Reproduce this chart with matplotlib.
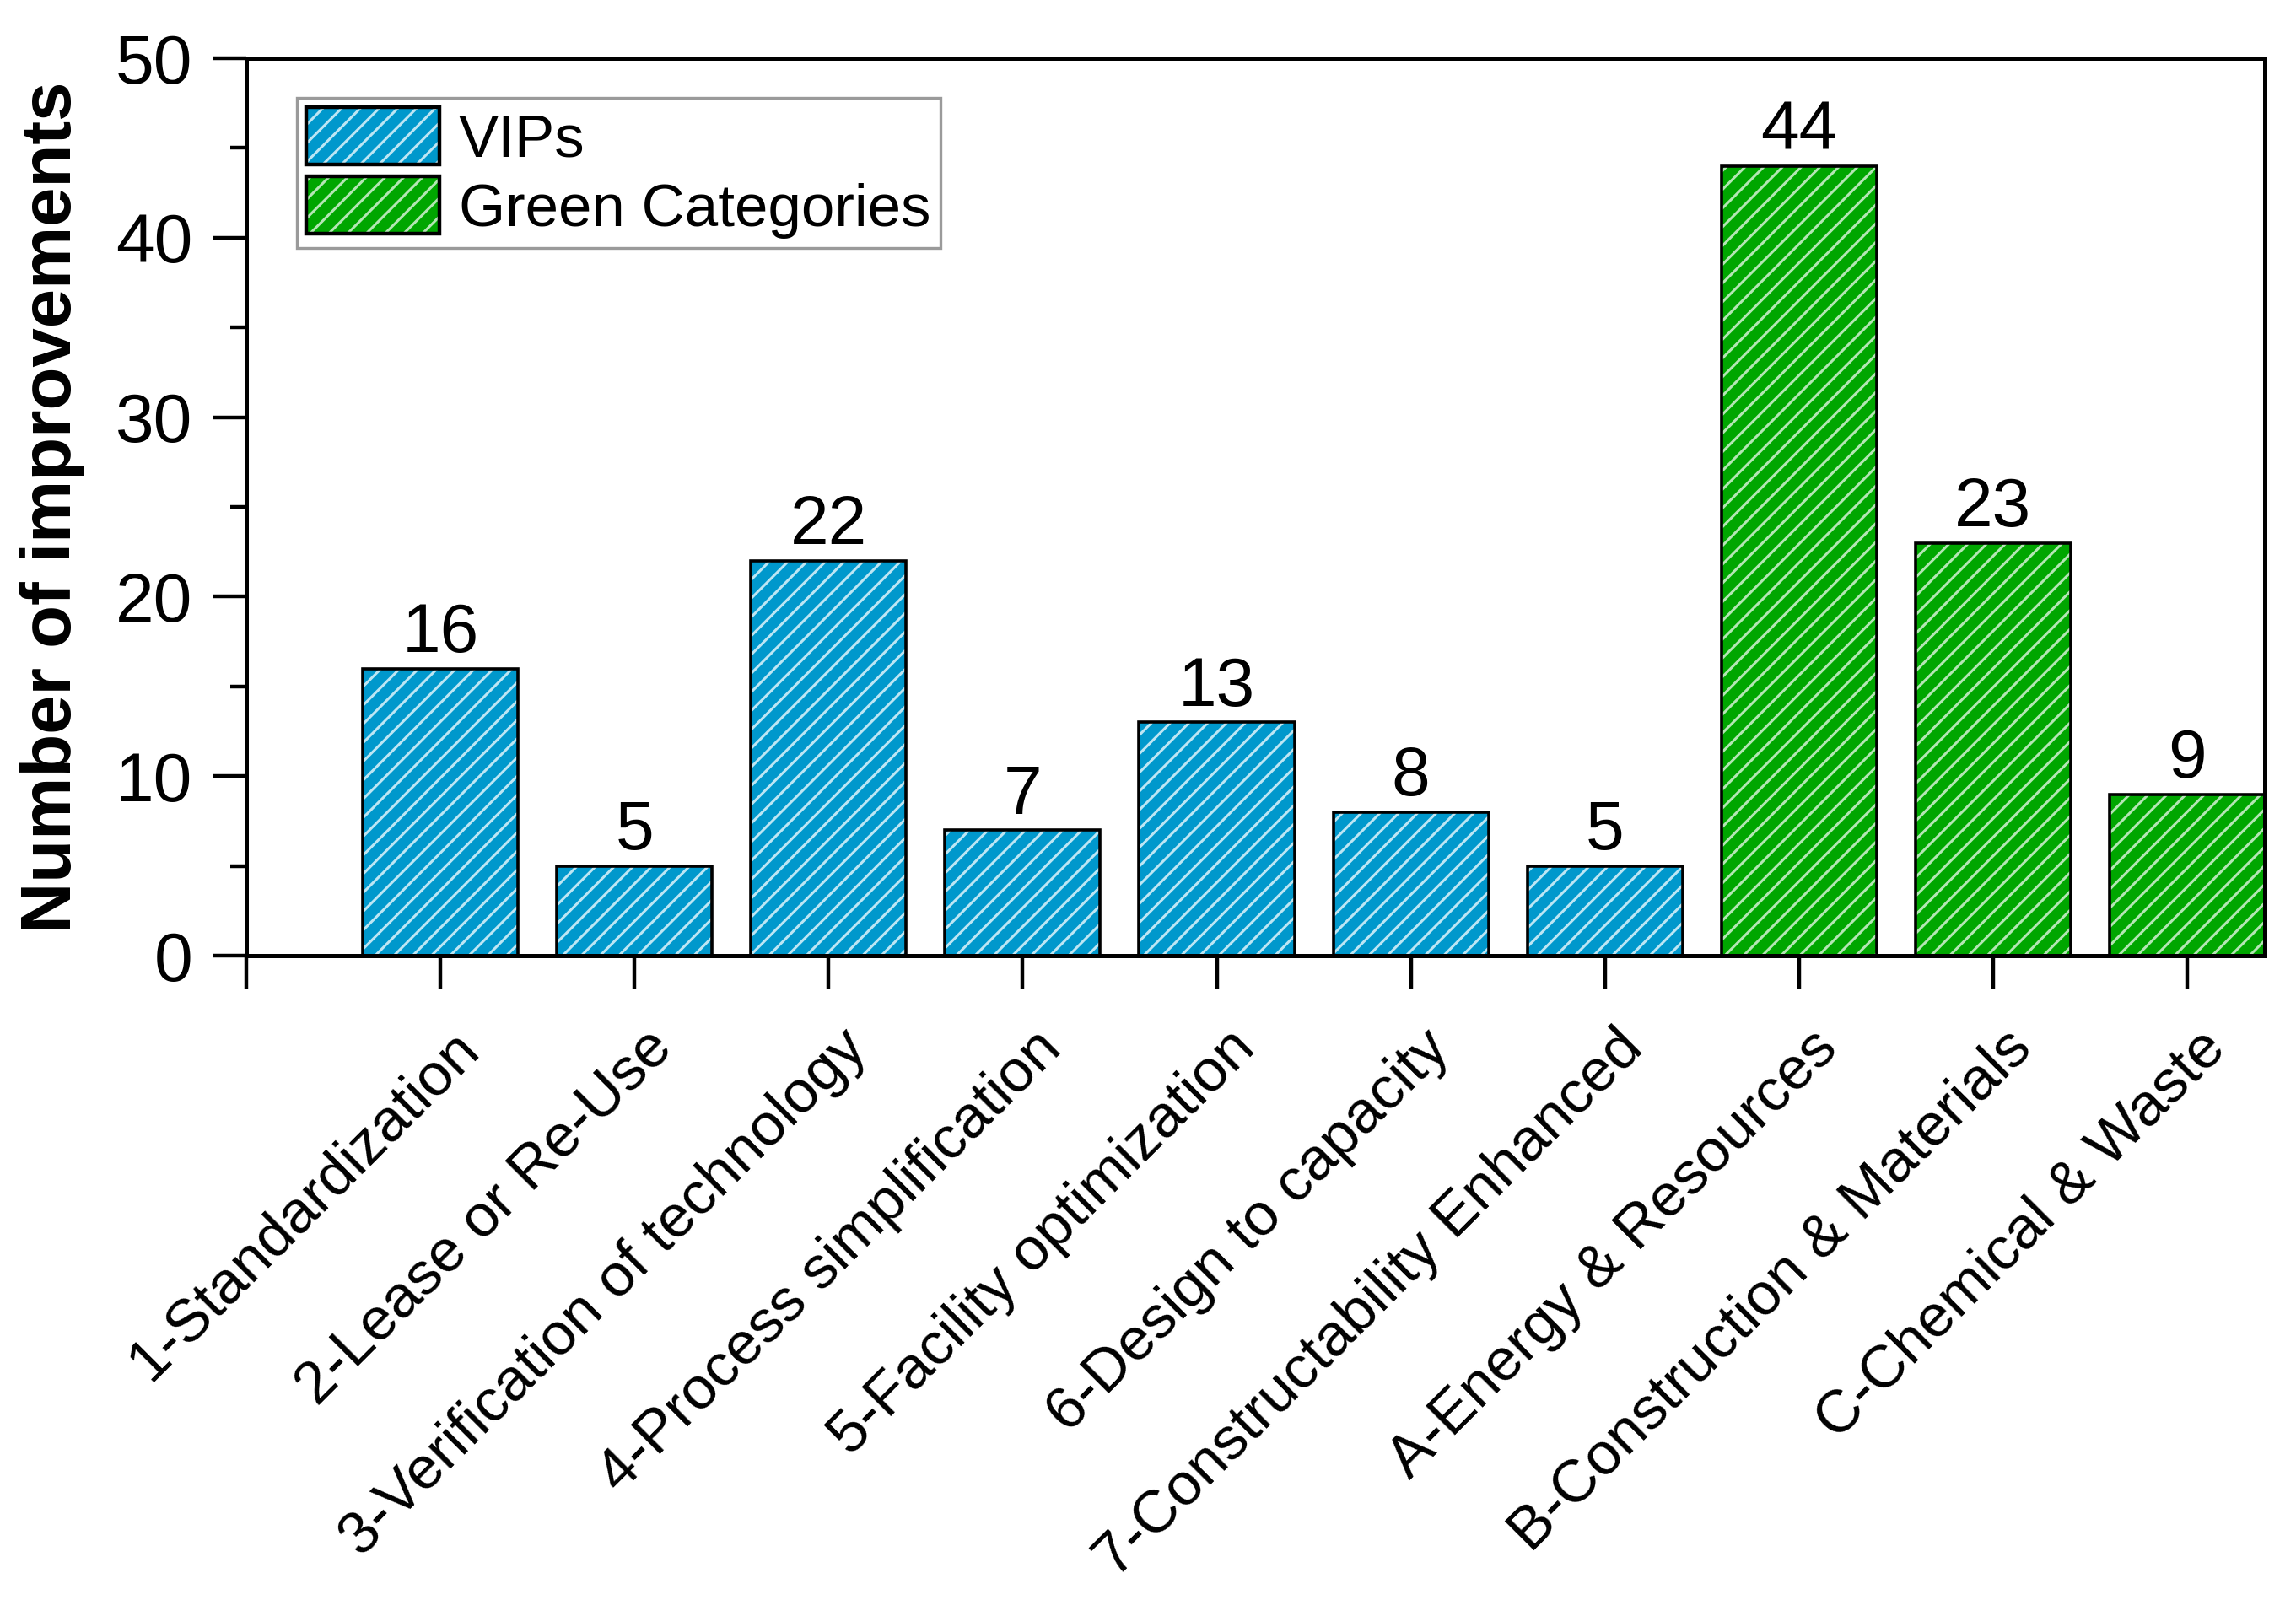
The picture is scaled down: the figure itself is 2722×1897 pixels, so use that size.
import numpy as np
import matplotlib
matplotlib.use('Agg')
import matplotlib.pyplot as plt
import matplotlib.patches as mpatches
import matplotlib.transforms as mtransforms
from matplotlib.ticker import MultipleLocator, FixedLocator

# Datos del grafico
categorias = ['1-Standardization', '2-Lease or Re-Use', '3-Verification of technology',
              '4-Process simplification', '5-Facility optimization', '6-Design to capacity',
              '7-Constructability Enhanced', 'A-Energy & Resources',
              'B-Construction & Materials', 'C-Chemical & Waste']
valores = [16, 5, 22, 7, 13, 8, 5, 44, 23, 9]
grupos = ['VIPs'] * 7 + ['Green Categories'] * 3

colores = {'VIPs': '#0098CC', 'Green Categories': '#00A600'}
colores_hatch = {'VIPs': '#BDE6F4', 'Green Categories': '#B4E6B4'}

plt.rcParams['font.family'] = ['Liberation Sans', 'DejaVu Sans']
plt.rcParams['hatch.linewidth'] = 1.1

fig = plt.figure(figsize=(13.61, 9.485), dpi=200)
ax = fig.add_axes([0.1073, 0.4027, 0.8791, 0.5609])

x = np.arange(len(categorias))
fc = [colores[g] for g in grupos]
hc = [colores_hatch[g] for g in grupos]

# relleno con rayado y luego el borde negro encima
ax.bar(x, valores, width=0.8, color=fc, edgecolor=hc, hatch='///', linewidth=0, zorder=2)
ax.bar(x, valores, width=0.8, fill=False, edgecolor='black', linewidth=1.3, zorder=3)

for xi, v in zip(x, valores):
    ax.annotate(str(v), (xi, v), xytext=(0, 7), textcoords='offset points',
                ha='center', va='baseline', fontsize=29.5)

ax.set_xlim(-1, 9.4)
ax.set_ylim(0, 50)
ax.yaxis.set_major_locator(MultipleLocator(10))
ax.yaxis.set_minor_locator(MultipleLocator(5))
ax.set_xticks(x)
ax.set_xticklabels(categorias, rotation=45, ha='right', va='top', rotation_mode='anchor',
                   fontsize=25.5)
ax.xaxis.set_minor_locator(FixedLocator([-1]))

ax.tick_params(axis='both', which='major', direction='out', length=14, width=1.6,
               top=False, right=False)
ax.tick_params(axis='y', which='major', pad=9, labelsize=29.5)
ax.tick_params(axis='y', which='minor', direction='out', length=7, width=1.6, right=False)
ax.tick_params(axis='x', which='minor', direction='out', length=14, width=1.6, top=False)
for s in ax.spines.values():
    s.set_linewidth(1.8)

# mover las etiquetas del eje x un poco abajo y a la derecha
desplazamiento = mtransforms.ScaledTranslation(0.06, -0.14, fig.dpi_scale_trans)
for lbl in ax.get_xticklabels():
    lbl.set_transform(lbl.get_transform() + desplazamiento)

ax.set_ylabel('Number of improvements', fontsize=30, fontweight='bold')
ax.yaxis.set_label_coords(-0.080, 0.5)

# leyenda
handles = []
for g in ['VIPs', 'Green Categories']:
    relleno = mpatches.Patch(facecolor=colores[g], edgecolor=colores_hatch[g], hatch='///', linewidth=0)
    borde = mpatches.Patch(fill=False, edgecolor='black', linewidth=1.6)
    handles.append((relleno, borde))
leg = ax.legend(handles, ['VIPs', 'Green Categories'], loc='upper left',
                bbox_to_anchor=(0.025, 0.956), fontsize=25.5, handlelength=2.23,
                handleheight=1.1, labelspacing=0.13, borderpad=0.16,
                handletextpad=0.32, borderaxespad=0, fancybox=False, framealpha=1)
leg.get_frame().set_edgecolor('#9a9a9a')
leg.get_frame().set_linewidth(1.2)

fig.savefig('out.png', dpi=200)
